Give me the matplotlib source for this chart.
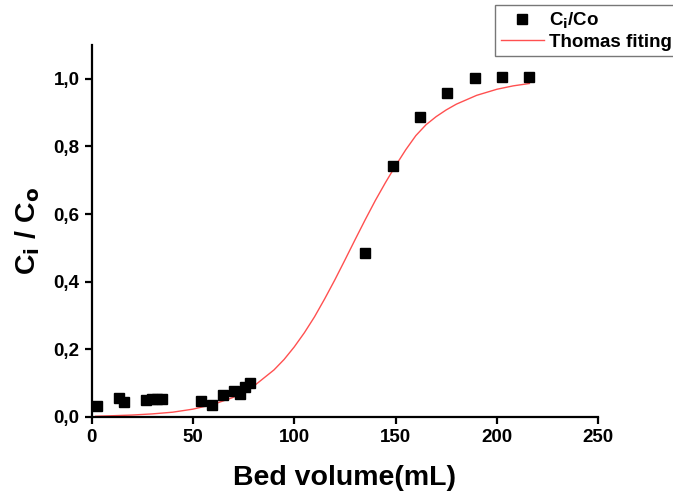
import matplotlib
matplotlib.use('Agg')
import matplotlib.pyplot as plt
from matplotlib.ticker import FuncFormatter

plt.rcParams['font.family'] = ['Liberation Sans', 'DejaVu Sans']
plt.rcParams['font.weight'] = 'bold'

# ==================== 数据 ====================
# 实验点 (Bed volume, Ci/Co)
bed_volume = [2.5, 13.6, 16.0, 27.1, 29.6, 32.4, 35.0, 53.9, 59.4, 64.8,
              70.2, 73.2, 75.5, 78.2, 134.9, 148.5, 162.0, 175.5, 189.0,
              202.5, 216.0]
ci_co = [0.031, 0.057, 0.044, 0.050, 0.053, 0.054, 0.054, 0.046, 0.036,
         0.065, 0.076, 0.069, 0.088, 0.099, 0.485, 0.743, 0.887, 0.958,
         1.002, 1.004, 1.004]

# Thomas 拟合曲线
fit_x = [2, 10, 20, 30, 40, 50, 60, 70, 80, 90, 95, 100, 105, 110, 115,
         120, 125, 130, 135, 140, 145, 150, 155, 160, 165, 170, 175, 180,
         190, 200, 208, 216]
fit_y = [0.002, 0.0035, 0.0056, 0.009, 0.014, 0.023, 0.037, 0.058, 0.091,
         0.139, 0.170, 0.207, 0.249, 0.296, 0.349, 0.405, 0.464, 0.524,
         0.583, 0.640, 0.693, 0.743, 0.790, 0.832, 0.864, 0.888, 0.908,
         0.925, 0.951, 0.969, 0.979, 0.986]

x_ticks = [0, 50, 100, 150, 200, 250]
y_ticks = [0.0, 0.2, 0.4, 0.6, 0.8, 1.0]

# ==================== 绘图 ====================
fig = plt.figure(figsize=(6.73, 4.94), dpi=100)
ax = fig.add_axes([0.136, 0.156, 0.753, 0.753])

pts, = ax.plot(bed_volume, ci_co, linestyle='none', marker='s',
               markersize=6.5, color='black', clip_on=False, zorder=3,
               label=r'C$_\mathbf{i}$/Co')
fit, = ax.plot(fit_x, fit_y, color='#ff5050', linewidth=1.0,
               label='Thomas fiting')

ax.set_xlim(0, 250)
ax.set_ylim(0, 1.1)
ax.set_xticks(x_ticks)
ax.set_yticks(y_ticks)
ax.yaxis.set_major_formatter(FuncFormatter(lambda v, p: f'{v:.1f}'.replace('.', ',')))

for s in ['top', 'right']:
    ax.spines[s].set_visible(False)
for s in ['left', 'bottom']:
    ax.spines[s].set_linewidth(1.6)
ax.tick_params(direction='out', length=5, width=1.6, labelsize=13.5)
for lab in ax.get_xticklabels() + ax.get_yticklabels():
    lab.set_fontweight('bold')

ax.set_xlabel('Bed volume(mL)', fontsize=20.5, fontweight='bold', labelpad=14)
ax.set_ylabel(r'C$_\mathbf{i}$ / C$_\mathbf{o}$', fontsize=20.5,
              fontweight='bold', labelpad=8)

# 图例放在坐标轴外的右上角
leg = fig.legend(handles=[pts, fit], loc='upper left',
                 bbox_to_anchor=(0.7355, 0.99), fontsize=13.5,
                 frameon=True, fancybox=False, handlelength=2.3,
                 handletextpad=0.3, borderpad=0.3, labelspacing=0.15,
                 borderaxespad=0)
leg.get_frame().set_edgecolor('#555555')
leg.get_frame().set_linewidth(1.0)
for t in leg.get_texts():
    t.set_fontweight('bold')

plt.savefig('out.png', dpi=100)
